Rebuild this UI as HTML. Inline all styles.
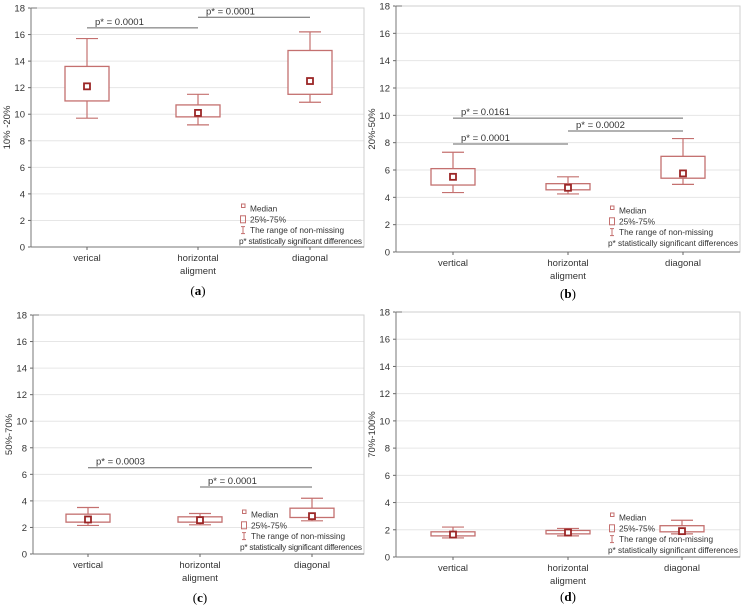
<!DOCTYPE html>
<html><head><meta charset="utf-8"><style>
html,body{margin:0;padding:0;background:#fff;}
svg{display:block;font-family:"Liberation Sans",sans-serif;}
</style></head><body>
<svg id="fig" width="746" height="610" viewBox="0 0 746 610" xmlns="http://www.w3.org/2000/svg"></svg>
<script>
const categories = ["vertical", "horizontal", "diagonal"];
const categoriesA = ["verical", "horizontal", "diagonal"];
const yTicks = [0, 2, 4, 6, 8, 10, 12, 14, 16, 18];
// [whiskerLow, q1, median, q3, whiskerHigh]
const seriesA = [[9.7, 11.0, 12.1, 13.6, 15.7], [9.2, 9.8, 10.1, 10.7, 11.5], [10.9, 11.5, 12.5, 14.8, 16.2]];
const seriesB = [[4.35, 4.9, 5.5, 6.1, 7.3], [4.25, 4.55, 4.7, 5.0, 5.5], [4.95, 5.4, 5.75, 7.0, 8.3]];
const seriesC = [[2.15, 2.4, 2.6, 3.0, 3.5], [2.2, 2.4, 2.55, 2.8, 3.05], [2.5, 2.75, 2.85, 3.45, 4.2]];
const seriesD = [[1.4, 1.55, 1.65, 1.85, 2.2], [1.55, 1.7, 1.8, 1.95, 2.1], [1.7, 1.85, 1.9, 2.3, 2.7]];
// significance: [fromCat, toCat, yValue, label]
const sigA = [[0, 1, 16.5, "p* = 0.0001"], [1, 2, 17.3, "p* = 0.0001"]];
const sigB = [[0, 2, 9.8, "p* = 0.0161"], [1, 2, 8.85, "p* = 0.0002"], [0, 1, 7.9, "p* = 0.0001"]];
const sigC = [[0, 2, 6.5, "p* = 0.0003"], [1, 2, 5.05, "p* = 0.0001"]];
const sigD = [];
const legendItems = ["Median", "25%-75%", "The range of non-missing", "p* statistically significant differences"];

const svg = document.getElementById('fig');
const NS = "http://www.w3.org/2000/svg";
function mk(tag, attrs, parent, txt){
  const e = document.createElementNS(NS, tag);
  for (const k in attrs) e.setAttribute(k, attrs[k]);
  if (txt !== undefined) e.textContent = txt;
  (parent || svg).appendChild(e);
  return e;
}
const BOX = "#c4706f", MED = "#9b2626", TXT = "#333";

function panel(p){
  const g = mk('g', {});
  
  
  const y = v => p.bottom - (v / 18) * (p.bottom - p.top);
  const x = i => p.cats[i];
  yTicks.forEach(t => {
    if (t > 0 && t < 18) {
      const gl = mk('line', {x1: p.left, x2: p.right, y1: y(t), y2: y(t), stroke: "#e6e6e6", "stroke-width": 1}, g);
      
      
    }
    const tl = mk('text', {x: p.left - 6, y: y(t) + 3.5, "font-size": 9.5, fill: TXT, "text-anchor": "end"}, g, t);
    
    
    mk('line', {x1: p.left - 3, x2: p.left, y1: y(t), y2: y(t), stroke: "#666"}, g);
  });
  const fr = mk('rect', {x: p.left, y: p.top, width: p.right - p.left, height: p.bottom - p.top, fill: "none", stroke: "#cfcfcf"}, g);
  
  
  mk('line', {x1: p.left, x2: p.left, y1: p.top, y2: p.bottom, stroke: "#777"}, g);
  mk('line', {x1: p.left, x2: p.right, y1: p.bottom, y2: p.bottom, stroke: "#777"}, g);
  mk('line', {x1: p.left, x2: p.left + 6, y1: p.top, y2: p.top, stroke: "#777"}, g);
  const yt = mk('text', {x: 0, y: 0, "font-size": 9.5, fill: TXT, "text-anchor": "middle", transform: `translate(${p.left - 21},${(p.top + p.bottom) / 2}) rotate(-90)`}, g, p.ylabel);
  
  
  p.catNames.forEach((c, i) => {
    mk('line', {x1: x(i), x2: x(i), y1: p.bottom, y2: p.bottom + 3, stroke: "#666"}, g);
    const ct = mk('text', {x: x(i), y: p.bottom + 14, "font-size": 9.5, fill: TXT, "text-anchor": "middle"}, g, c);
    
    
  });
  const xt = mk('text', {x: x(1), y: p.bottom + 27, "font-size": 9.5, fill: TXT, "text-anchor": "middle"}, g, "aligment");
  
  
  const cap = mk('text', {x: x(1), y: p.bottom + p.capOff, "font-size": 13, fill: "#000", "text-anchor": "middle", "font-family": "Liberation Serif, serif"}, g);
  
  
  mk('tspan', {}, cap, "(");
  mk('tspan', {"font-weight": "bold"}, cap, p.id);
  mk('tspan', {}, cap, ")");
  p.data.forEach((d, i) => {
    const bg = mk('g', {}, g);
    
    
    const cx = x(i);
    mk('line', {x1: cx, x2: cx, y1: y(d[0]), y2: y(d[1]), stroke: BOX, "stroke-width": 1.2}, bg);
    mk('line', {x1: cx, x2: cx, y1: y(d[3]), y2: y(d[4]), stroke: BOX, "stroke-width": 1.2}, bg);
    mk('line', {x1: cx - 11, x2: cx + 11, y1: y(d[0]), y2: y(d[0]), stroke: BOX, "stroke-width": 1.2}, bg);
    mk('line', {x1: cx - 11, x2: cx + 11, y1: y(d[4]), y2: y(d[4]), stroke: BOX, "stroke-width": 1.2}, bg);
    mk('rect', {x: cx - 22, y: y(d[3]), width: 44, height: y(d[1]) - y(d[3]), fill: "#fff", stroke: BOX, "stroke-width": 1.3}, bg);
    const m = mk('rect', {x: cx - 3, y: y(d[2]) - 3, width: 6, height: 6, fill: "#fff", stroke: MED, "stroke-width": 1.8}, bg);
    
    
  });
  p.sig.forEach(s => {
    const sl = mk('line', {x1: x(s[0]), x2: x(s[1]), y1: y(s[2]), y2: y(s[2]), stroke: "#666", "stroke-width": 1}, g);
    
    
    const st = mk('text', {x: x(s[0]) + 8, y: y(s[2]) - 3, "font-size": 9.5, fill: TXT}, g, s[3]);
    
    
  });
  const lg = mk('g', {}, g);
  
  
  legendItems.forEach((t, i) => {
    const ly = p.leg[1] + i * 10.8;
    const tx = i === 3 ? p.leg[0] - 3 : p.leg[0] + 8;
    const lt = mk('text', {x: tx, y: ly + 3.5, "font-size": 8.3, fill: TXT}, lg, t);
    
    
    if (i === 3) lt.setAttribute('textLength', p.right - tx - 2);
    const mx = p.leg[0] + 1;
    if (i === 0) mk('rect', {x: mx - 1.5, y: ly - 4, width: 3.5, height: 3.5, fill: "none", stroke: BOX}, lg);
    if (i === 1) mk('rect', {x: mx - 2.5, y: ly - 3, width: 5, height: 7, fill: "none", stroke: BOX}, lg);
    if (i === 2) {
      mk('line', {x1: mx, x2: mx, y1: ly - 3, y2: ly + 4, stroke: BOX}, lg);
      mk('line', {x1: mx - 2, x2: mx + 2, y1: ly - 3, y2: ly - 3, stroke: BOX}, lg);
      mk('line', {x1: mx - 2, x2: mx + 2, y1: ly + 4, y2: ly + 4, stroke: BOX}, lg);
    }
  });
}

panel({id: "a", left: 31, right: 364, top: 8, bottom: 247, cats: [87, 198, 310], catNames: categoriesA, ylabel: "10% -20%", data: seriesA, sig: sigA, leg: [242, 208], capOff: 48});
panel({id: "b", left: 396, right: 740, top: 6, bottom: 252, cats: [453, 568, 683], catNames: categories, ylabel: "20%-50%", data: seriesB, sig: sigB, leg: [611, 210], capOff: 46});
panel({id: "c", left: 33, right: 364, top: 315, bottom: 554, cats: [88, 200, 312], catNames: categories, ylabel: "50%-70%", data: seriesC, sig: sigC, leg: [243, 514], capOff: 48});
panel({id: "d", left: 396, right: 740, top: 312, bottom: 557, cats: [453, 568, 682], catNames: categories, ylabel: "70%-100%", data: seriesD, sig: sigD, leg: [611, 517], capOff: 44});
</script>
</body></html>
